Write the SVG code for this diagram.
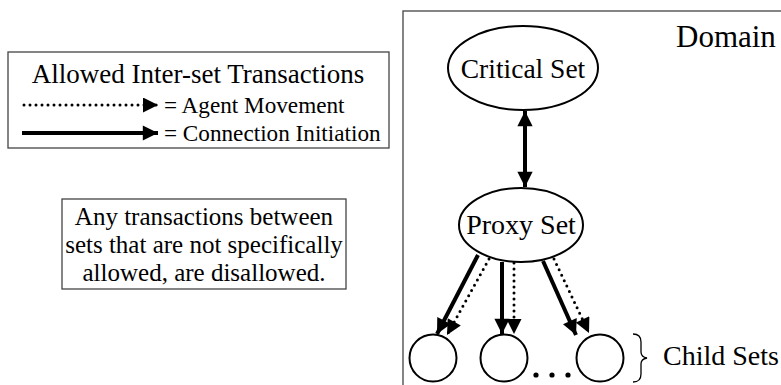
<svg xmlns="http://www.w3.org/2000/svg" width="781" height="385" viewBox="0 0 781 385">
<style>
text{font-family:"Liberation Serif","Times New Roman",serif;fill:#000}
.box{fill:#fff;stroke:#444;stroke-width:1.3}
.node{fill:#fff;stroke:#000;stroke-width:2}
.solid{stroke:#000;stroke-width:4;fill:none}
.dot{stroke:#000;stroke-width:3;fill:none;stroke-dasharray:0 6;stroke-linecap:round}
</style>
<defs>
<marker id="ah" viewBox="0 0 10 10" refX="10" refY="5" markerWidth="4.2" markerHeight="3.8" orient="auto-start-reverse" markerUnits="strokeWidth"><path d="M0,0 L10,5 L0,10 z" fill="#000"/></marker>
<marker id="ahd" viewBox="0 0 10 10" refX="10" refY="5" markerWidth="5.5" markerHeight="5" orient="auto" markerUnits="strokeWidth"><path d="M0,0 L10,5 L0,10 z" fill="#000"/></marker>
</defs>
<rect x="-1" y="-1" width="783" height="387" fill="#fff"/>

<g id="legend">
<rect class="box" x="8" y="52" width="381" height="96"/>
<text x="198" y="83" font-size="27" text-anchor="middle">Allowed Inter-set Transactions</text>
<line class="dot" x1="24" y1="105" x2="158" y2="105" marker-end="url(#ahd)"/>
<text x="164" y="113" font-size="23.2">= Agent Movement</text>
<line class="solid" x1="22" y1="133" x2="158" y2="133" marker-end="url(#ah)"/>
<text x="164" y="141" font-size="23.2">= Connection Initiation</text>
</g>

<g id="note">
<rect class="box" x="62" y="199" width="284" height="90"/>
<text font-size="25" text-anchor="middle"><tspan x="204" y="225">Any transactions between</tspan><tspan x="204" y="253">sets that are not specifically</tspan><tspan x="204" y="281">allowed, are disallowed.</tspan></text>
</g>

<g id="domain">
<rect class="box" x="403" y="11" width="400" height="400"/>
<text x="676" y="47" font-size="31">Domain</text>
</g>

<g id="critical">
<ellipse class="node" cx="523" cy="68" rx="75" ry="42"/>
<text x="523" y="78" font-size="27.5" text-anchor="middle">Critical Set</text>
</g>

<g id="proxy">
<ellipse class="node" cx="521" cy="225" rx="62" ry="37"/>
<text x="521" y="234" font-size="28" text-anchor="middle">Proxy Set</text>
</g>

<g id="child1"><circle class="node" cx="433" cy="358" r="23.5"/></g>
<g id="child2"><circle class="node" cx="504" cy="358" r="23.5"/></g>
<g id="child3"><circle class="node" cx="600" cy="358" r="23.5"/></g>

<g id="ellipsis">
<circle cx="536" cy="375" r="2.6"/>
<circle cx="552" cy="375" r="2.6"/>
<circle cx="568" cy="375" r="2.6"/>
</g>

<g id="childsets">
<path d="M633,334 Q641,334 641,342 L641,352 Q641,357 647,358 Q641,359 641,364 L641,374 Q641,382 633,382" fill="none" stroke="#000" stroke-width="1.3"/>
<text x="663" y="365" font-size="28">Child Sets</text>
</g>

<g id="connectors">
<line class="solid" x1="525" y1="111" x2="525" y2="187" marker-start="url(#ah)" marker-end="url(#ah)"/>
<line class="solid" x1="478" y1="255" x2="437" y2="334" marker-end="url(#ah)"/>
<line class="dot" x1="489" y1="259" x2="447" y2="335" marker-end="url(#ahd)"/>
<line class="solid" x1="502" y1="262" x2="502" y2="334" marker-end="url(#ah)"/>
<line class="dot" x1="514" y1="263" x2="514" y2="334" marker-end="url(#ahd)"/>
<line class="solid" x1="543" y1="261" x2="576" y2="335" marker-end="url(#ah)"/>
<line class="dot" x1="554" y1="259" x2="589" y2="333" marker-end="url(#ahd)"/>
</g>
</svg>
